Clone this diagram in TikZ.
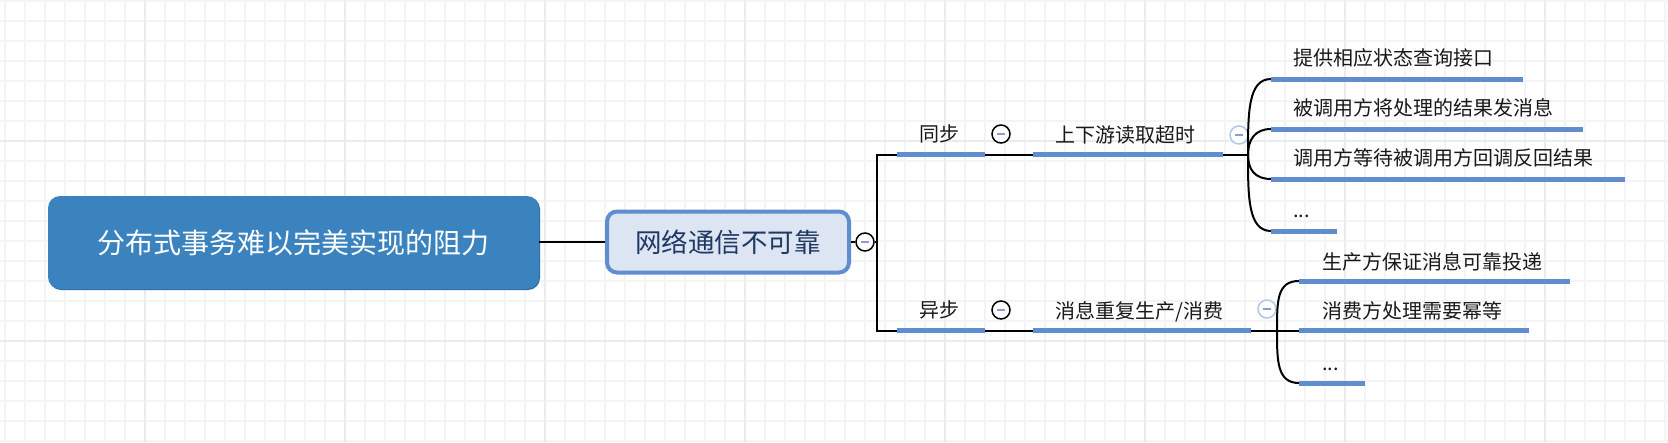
\documentclass[tikz,border=0pt]{standalone}
\usepackage{fontspec}
\newfontfamily\cjk{Noto Sans CJK SC}
\definecolor{rootblue}{HTML}{3A83BF}
\definecolor{rootshadow}{HTML}{2F6FA6}
\definecolor{barblue}{HTML}{5F8DCE}
\definecolor{boxfill}{HTML}{DCE5F1}
\definecolor{navy}{HTML}{1F3864}
\definecolor{minuscol}{HTML}{8C9BD0}
\definecolor{lightring}{HTML}{B3C6EC}
\definecolor{gridminor}{HTML}{F4F4F4}
\definecolor{gridmajor}{HTML}{EBEBEB}
\begin{document}
\begin{tikzpicture}[x=1pt,y=-1pt,
  minor/.style={draw=gridminor,line width=1.4pt},
  major/.style={draw=gridmajor,line width=1.6pt},
  bar/.style={draw=barblue,line width=5pt},
  conn/.style={draw=black,line width=2pt},
  lbl/.style={font=\cjk\fontsize{20}{22}\selectfont,inner sep=0pt,text=black!90},
  rootbox/.style={fill=rootblue,rounded corners=12pt,minimum width=491pt,minimum height=93pt,
    text=white,font=\cjk\fontsize{28}{30}\selectfont,inner sep=0pt},
  topicbox/.style={fill=boxfill,draw=barblue,line width=4pt,rounded corners=10pt,
    minimum width=242pt,minimum height=61pt,text=navy,font=\cjk\fontsize{26.5}{28}\selectfont,inner sep=0pt},
  collapse/.style={circle,minimum size=18pt,inner sep=0pt,fill=white,draw=black,line width=1.5pt,
    path picture={\draw[minuscol,line width=2pt]
      ([xshift=-4pt]path picture bounding box.center) -- ([xshift=4pt]path picture bounding box.center);}},
  collapselight/.style={collapse,draw=lightring}
]
\useasboundingbox (0,0) rectangle (1668,442);
\fill[white] (0,0) rectangle (1668,442);
% grid
\foreach \x in {5,25,...,1665} \draw[minor] (\x,0) -- (\x,442);
\foreach \y in {1,21,...,441} \draw[minor] (0,\y) -- (1668,\y);
\foreach \x in {145,345,...,1545} \draw[major] (\x,0) -- (\x,442);
\foreach \y in {141,341} \draw[major] (0,\y) -- (1668,\y);

% root
\fill[rootshadow,rounded corners=12pt] (49,197) rectangle (540,290);
\node[rootbox] (root) at (293.5,242.5) {分布式事务难以完美实现的阻力};
% main topic
\node[topicbox] (topic) at (728,242) {网络通信不可靠};
\node[collapse] (k0) at (865,242) {};
\coordinate (v) at (877,242);

\draw[conn] (root.east |- topic.west) -- (topic.west);
\draw[conn] (topic.east) -- (k0.west);
\draw[conn] (k0.east) -- (v);

% level 2 bars
\coordinate (s1l) at (897,154.7); \coordinate (s1r) at (985,154.7);
\coordinate (a1l) at (897,330.7); \coordinate (a1r) at (985,330.7);
\draw[conn] (v) |- (s1l);
\draw[conn] (v) |- (a1l);
\draw[bar] (s1l) -- (s1r);
\draw[bar] (a1l) -- (a1r);
\node[lbl,anchor=base] (tsync) at (939,141.6) {同步};
\node[lbl,anchor=base] (tasync) at (939,317.6) {异步};
\node[collapse] (k1) at (1001,134) {};
\node[collapse] (k2) at (1001,310) {};

% level 3 bars
\coordinate (s2l) at (1033,154.7); \coordinate (s2r) at (1223,154.7);
\coordinate (a2l) at (1033,330.7); \coordinate (a2r) at (1251,330.7);
\draw[conn] (s1r) -- (s2l);
\draw[conn] (a1r) -- (a2l);
\draw[bar] (s2l) -- (s2r);
\draw[bar] (a2l) -- (a2r);
\node[lbl,anchor=base west] (ttimeout) at (1055,142.6) {上下游读取超时};
\node[lbl,anchor=base west] (tdup) at (1055,318.3) {消息重复生产/消费};
\node[collapselight] (k3) at (1239,135) {};
\node[collapselight] (k4) at (1267,309) {};

% upper children
\coordinate (j1) at (1248,154.7);
\draw[conn] (s2r) -- (j1);
\coordinate (c1l) at (1271,79);  \coordinate (c1r) at (1523,79);
\coordinate (c2l) at (1271,129); \coordinate (c2r) at (1583,129);
\coordinate (c3l) at (1271,179); \coordinate (c3r) at (1625,179);
\coordinate (c4l) at (1271,231); \coordinate (c4r) at (1337,231);
\draw[conn] (j1) .. controls +(0,-42) and +(-23,0) .. (c1l);
\draw[conn] (j1) .. controls +(0,-15) and +(-16,0) .. (c2l);
\draw[conn] (j1) .. controls +(0,15) and +(-16,0) .. (c3l);
\draw[conn] (j1) .. controls +(0,42) and +(-23,0) .. (c4l);
\draw[bar] (c1l) -- (c1r);
\draw[bar] (c2l) -- (c2r);
\draw[bar] (c3l) -- (c3r);
\draw[bar] (c4l) -- (c4r);
\node[lbl,anchor=base west] (u1) at (1293,65.6) {提供相应状态查询接口};
\node[lbl,anchor=base west] (u2) at (1293,115.6) {被调用方将处理的结果发消息};
\node[lbl,anchor=base west] (u3) at (1293,165.6) {调用方等待被调用方回调反回结果};
\node[lbl,anchor=base west] (u4) at (1293,217.5) {...};

% lower children
\coordinate (j2) at (1277,330.7);
\draw[conn] (a2r) -- (j2);
\coordinate (d1l) at (1299,281);   \coordinate (d1r) at (1570,281);
\coordinate (d2l) at (1299,330.7); \coordinate (d2r) at (1529,330.7);
\coordinate (d3l) at (1299,383);   \coordinate (d3r) at (1365,383);
\draw[conn] (j2) .. controls +(0,-30) and +(-22,0) .. (d1l);
\draw[conn] (j2) -- (d2l);
\draw[conn] (j2) .. controls +(0,30) and +(-22,0) .. (d3l);
\draw[bar] (d1l) -- (d1r);
\draw[bar] (d2l) -- (d2r);
\draw[bar] (d3l) -- (d3r);
\node[lbl,anchor=base west] (l1) at (1322,269.6) {生产方保证消息可靠投递};
\node[lbl,anchor=base west] (l2) at (1322,318.6) {消费方处理需要幂等};
\node[lbl,anchor=base west] (l3) at (1322,370) {...};
\end{tikzpicture}
\end{document}
